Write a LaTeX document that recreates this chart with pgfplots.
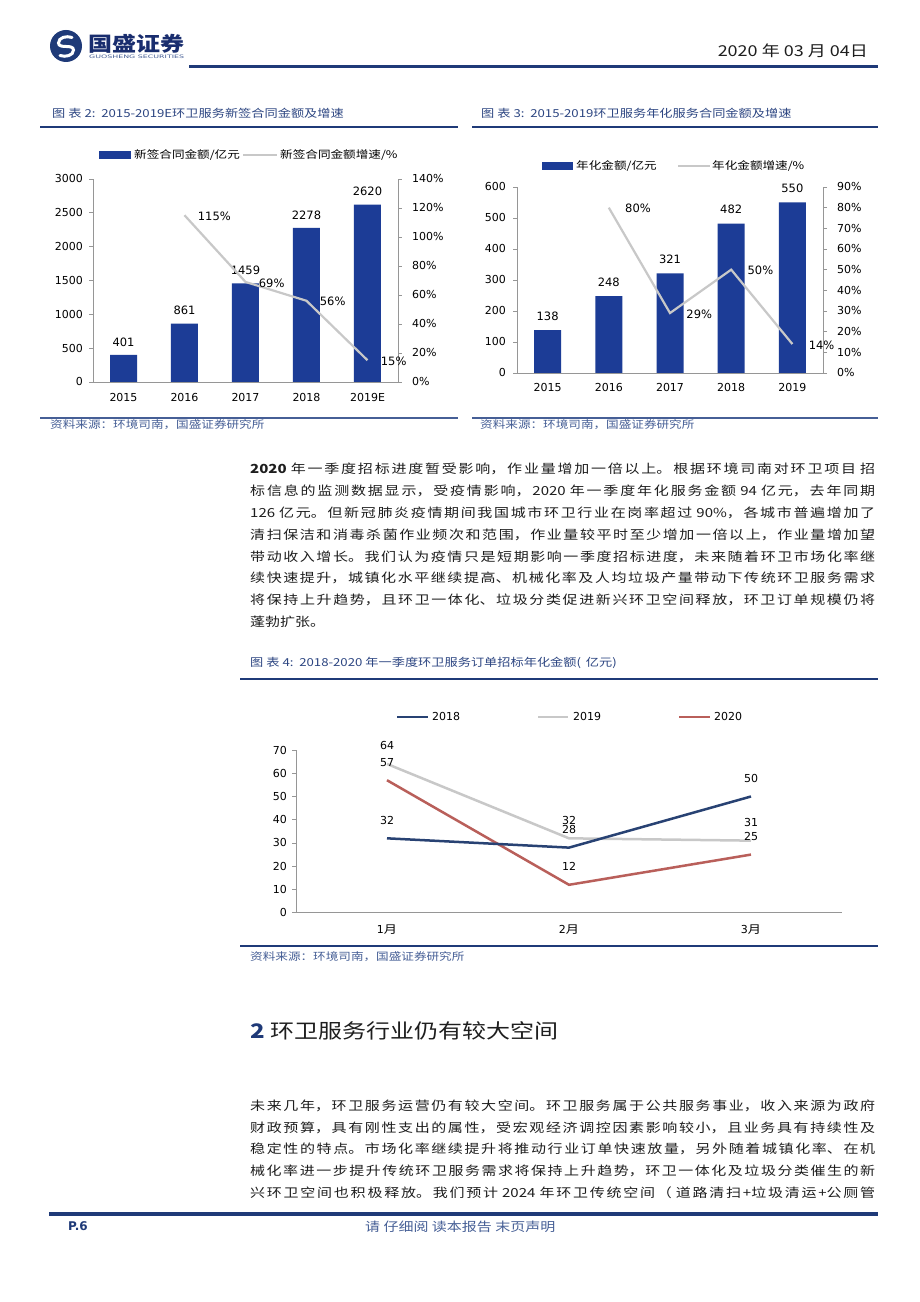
\documentclass[border=0pt]{standalone}
\usepackage{fontspec}
\usepackage{graphicx}
\usepackage{pgfplots}
\pgfplotsset{compat=1.18}
\setmainfont{Noto Sans CJK SC}[FakeStretch=1.2]
\newfontfamily\lat{DejaVu Sans}
\newfontfamily\cjk{Noto Sans CJK SC}[FakeStretch=1.2]
\XeTeXlinebreaklocale "zh"
\XeTeXlinebreakskip=0pt plus 4pt
\definecolor{navy}{RGB}{31,58,120}
\definecolor{barblue}{RGB}{28,60,150}
\definecolor{lgray}{RGB}{200,200,200}
\definecolor{axgray}{RGB}{150,150,150}
\definecolor{capblue}{RGB}{45,70,130}
\definecolor{srcblue}{RGB}{70,95,150}
\definecolor{c18}{RGB}{40,66,115}
\definecolor{c20}{RGB}{185,95,90}
\definecolor{txt}{RGB}{30,30,30}
\newcommand{\tickfont}{\lat\fontsize{11}{13}\selectfont}
\newcommand{\valfont}{\lat\fontsize{11.5}{13}\selectfont}
\newcommand{\jl}[2]{\node[anchor=west,inner sep=0pt,text=txt] at (250,1302-#1) {\parbox{625pt}{\fontsize{12.5}{15}\selectfont\tolerance=10000\hbadness=10000\parfillskip=0pt\relax #2}};}
\pgfplotsset{
  every axis/.append style={scale only axis, clip=false, scaled y ticks=false,
    /pgf/number format/1000 sep={}, /pgf/number format/assume math mode=true,
    axis line style={draw=axgray, line width=0.8pt, -},
    major tick length=4pt, tick align=outside,
    ticklabel style={font=\tickfont, text=black},
    ytick style={draw=axgray, line width=0.8pt}},
}
\begin{document}
\begin{tikzpicture}
\begin{scope}[x=1pt,y=1pt]
\fill[white] (0,0) rectangle (920,1302);
% ---------- header ----------
\fill[navy] (66,1302-46) circle (16);
\draw[white, line width=3pt, line cap=round] (72,1302-37.5) to[out=160,in=90] (58.5,1302-43) to[out=-90,in=180] (66,1302-46.5) to[out=0,in=90] (73.5,1302-50) to[out=-90,in=-20] (60,1302-55.5);
\node[anchor=west, inner sep=0pt, text={rgb,255:red,25;green,45;blue,110}] at (88,1302-43.5) {\fontsize{20}{23}\selectfont\bfseries 国盛证券};
\node[anchor=west, inner sep=0pt, text=srcblue] at (89,1302-57) {\resizebox{95pt}{3.5pt}{\lat GUOSHENG SECURITIES}};
\node[anchor=east, inner sep=0pt, text=txt] at (868,1302-51) {\fontsize{15}{18}\selectfont 2020 年 03 月 04日};
\draw[navy, line width=3pt] (189,1302-66.5) -- (878,1302-66.5);
% ---------- captions ----------
\node[anchor=west, inner sep=0pt, text=capblue] at (52,1302-113) {\fontsize{11}{13}\selectfont 图 表 2: \,2015-2019E环卫服务新签合同金额及增速};
\node[anchor=west, inner sep=0pt, text=capblue] at (481,1302-113) {\fontsize{11}{13}\selectfont 图 表 3: \,2015-2019环卫服务年化服务合同金额及增速};
\draw[navy, line width=2pt] (40,1302-127) -- (458,1302-127);
\draw[navy, line width=2pt] (472,1302-127) -- (878,1302-127);
\draw[srcblue, line width=1.5pt] (40,1302-418) -- (458,1302-418);
\draw[srcblue, line width=1.5pt] (472,1302-418) -- (878,1302-418);
\node[anchor=west, inner sep=0pt, text=srcblue] at (50,1302-425) {\fontsize{10.5}{12}\selectfont 资料来源：环境司南，国盛证券研究所};
\node[anchor=west, inner sep=0pt, text=srcblue] at (480,1302-425) {\fontsize{10.5}{12}\selectfont 资料来源：环境司南，国盛证券研究所};
% ---------- chart 1 legend ----------
\fill[barblue] (99,1302-159) rectangle (131,1302-151);
\node[anchor=west, inner sep=0pt] at (134,1302-155) {\fontsize{10.5}{12}\selectfont 新签合同金额/亿元};
\draw[lgray, line width=2.5pt] (243,1302-155) -- (277,1302-155);
\node[anchor=west, inner sep=0pt] at (280,1302-155) {\fontsize{10.5}{12}\selectfont 新签合同金额增速/\%};
% ---------- chart 2 legend ----------
\fill[barblue] (542,1302-170) rectangle (573,1302-162);
\node[anchor=west, inner sep=0pt] at (576,1302-166) {\fontsize{10.5}{12}\selectfont 年化金额/亿元};
\draw[lgray, line width=2.5pt] (678,1302-166) -- (710,1302-166);
\node[anchor=west, inner sep=0pt] at (712,1302-166) {\fontsize{10.5}{12}\selectfont 年化金额增速/\%};
% ---------- paragraph 1 ----------
\jl{469}{{\bfseries 2020} 年一季度招标进度暂受影响，作业量增加一倍以上。根据环境司南对环卫项目 招}
\jl{490.9}{标信息的监测数据显示，受疫情影响，2020 年一季度年化服务金额 94 亿元，去年同期}
\jl{512.7}{126 亿元。但新冠肺炎疫情期间我国城市环卫行业在岗率超过 90\%，各城市普遍增加了}
\jl{534.6}{清扫保洁和消毒杀菌作业频次和范围，作业量较平时至少增加一倍以上，作业量增加望}
\jl{556.4}{带动收入增长。我们认为疫情只是短期影响一季度招标进度，未来随着环卫市场化率继}
\jl{578.3}{续快速提升，城镇化水平继续提高、机械化率及人均垃圾产量带动下传统环卫服务需求}
\jl{600.2}{将保持上升趋势，且环卫一体化、垃圾分类促进新兴环卫空间释放，环卫订单规模仍将}
\node[anchor=west, inner sep=0pt, text=txt] at (250,1302-622) {\fontsize{12.5}{15}\selectfont 蓬勃扩张。};
% ---------- chart 3 caption ----------
\node[anchor=west, inner sep=0pt, text=capblue] at (250,1302-663) {\fontsize{11}{13}\selectfont 图 表 4: \,2018-2020 年一季度环卫服务订单招标年化金额( \,亿元)};
\draw[navy, line width=2pt] (240,1302-679) -- (878,1302-679);
% ---------- chart 3 legend ----------
\draw[c18, line width=2.5pt] (397,1302-717) -- (428,1302-717);
\node[anchor=west, inner sep=0pt, font=\tickfont] at (432,1302-717) {2018};
\draw[lgray, line width=2.5pt] (538,1302-717) -- (568,1302-717);
\node[anchor=west, inner sep=0pt, font=\tickfont] at (573,1302-717) {2019};
\draw[c20, line width=2.5pt] (679,1302-717) -- (710,1302-717);
\node[anchor=west, inner sep=0pt, font=\tickfont] at (714,1302-717) {2020};
\draw[navy, line width=2pt] (240,1302-946.5) -- (878,1302-946.5);
\node[anchor=west, inner sep=0pt, text=srcblue] at (250,1302-957) {\fontsize{10.5}{12}\selectfont 资料来源：环境司南，国盛证券研究所};
% ---------- section heading ----------
\node[anchor=west, inner sep=0pt, text=txt] at (250,1302-1031) {\fontsize{20}{24}\selectfont{\bfseries\color{navy}2} 环卫服务行业仍有较大空间};
% ---------- paragraph 2 ----------
\jl{1106}{未来几年，环卫服务运营仍有较大空间。环卫服务属于公共服务事业，收入来源为政府}
\jl{1127.6}{财政预算，具有刚性支出的属性，受宏观经济调控因素影响较小，且业务具有持续性及}
\jl{1149.2}{稳定性的特点。市场化率继续提升将推动行业订单快速放量，另外随着城镇化率、在机}
\jl{1170.8}{械化率进一步提升传统环卫服务需求将保持上升趋势，环卫一体化及垃圾分类催生的新}
\jl{1192.4}{兴环卫空间也积极释放。我们预计 2024 年环卫传统空间（ 道路清扫+垃圾清运+公厕管}
% ---------- footer ----------
\draw[navy, line width=3.5pt] (49,1302-1214) -- (878,1302-1214);
\node[anchor=west, inner sep=0pt, text=navy] at (68,1302-1226) {\lat\bfseries\fontsize{12}{14}\selectfont P.6};
\node[anchor=west, inner sep=0pt, text=srcblue] at (365,1302-1227) {\fontsize{12.5}{15}\selectfont 请 仔细阅 读本报告 末页声明};
\end{scope}
% ---------- chart 1 ----------
\begin{axis}[at={(93pt,920pt)}, anchor=south west, width=305pt, height=203pt,
  xmin=-0.5, xmax=4.5, ymin=0, ymax=3000,
  xtick={0,1,2,3,4}, xticklabels={2015,2016,2017,2018,2019E},
  ytick={0,500,...,3000},
  axis y line*=left, axis x line*=bottom, xtick style={draw=none},
  xticklabel style={anchor=center, yshift=-12pt},
  yticklabel style={anchor=east, inner sep=0pt, xshift=-6pt}]
\addplot[ybar, bar width=27pt, fill=barblue, draw=none, nodes near coords,
  every node near coord/.append style={font=\valfont, text=black, anchor=center, yshift=13pt}]
  coordinates {(0,401)(1,861)(2,1459)(3,2278)(4,2620)};
\end{axis}
\begin{axis}[at={(93pt,920pt)}, anchor=south west, width=305pt, height=203pt,
  xmin=-0.5, xmax=4.5, ymin=0, ymax=140,
  ytick={0,20,...,140}, yticklabel={\pgfmathprintnumber{\tick}\%},
  axis y line*=right, axis x line=none,
  yticklabel style={anchor=west, inner sep=0pt, xshift=10pt}]
\addplot[lgray, line width=2.2pt, nodes near coords={\pgfmathprintnumber{\pgfplotspointmeta}\%},
  every node near coord/.append style={font=\valfont, text=black, anchor=west, xshift=9pt, yshift=-1pt}]
  coordinates {(1,115)(2,69)(3,56)(4,15)};
\end{axis}
% ---------- chart 2 ----------
\begin{axis}[at={(517pt,929pt)}, anchor=south west, width=306pt, height=186pt,
  xmin=-0.5, xmax=4.5, ymin=0, ymax=600,
  xtick={0,1,2,3,4}, xticklabels={2015,2016,2017,2018,2019},
  ytick={0,100,...,600},
  axis y line*=left, axis x line*=bottom, xtick style={draw=none},
  xticklabel style={anchor=center, yshift=-11pt},
  yticklabel style={anchor=east, inner sep=0pt, xshift=-7pt}]
\addplot[ybar, bar width=27pt, fill=barblue, draw=none, nodes near coords,
  every node near coord/.append style={font=\valfont, text=black, anchor=center, yshift=14pt}]
  coordinates {(0,138)(1,248)(2,321)(3,482)(4,550)};
\end{axis}
\begin{axis}[at={(517pt,929pt)}, anchor=south west, width=306pt, height=186pt,
  xmin=-0.5, xmax=4.5, ymin=0, ymax=90,
  ytick={0,10,...,90}, yticklabel={\pgfmathprintnumber{\tick}\%},
  axis y line*=right, axis x line=none,
  yticklabel style={anchor=west, inner sep=0pt, xshift=10pt}]
\addplot[lgray, line width=2.2pt, nodes near coords={\pgfmathprintnumber{\pgfplotspointmeta}\%},
  every node near coord/.append style={font=\valfont, text=black, anchor=west, xshift=12pt, yshift=-1pt}]
  coordinates {(1,80)(2,29)(3,50)(4,14)};
\end{axis}
% ---------- chart 3 ----------
\begin{axis}[at={(296pt,389.3pt)}, anchor=south west, width=546pt, height=162.7pt,
  xmin=0.5, xmax=3.5, ymin=0, ymax=70,
  xtick={1,2,3}, xticklabels={1{\cjk 月},2{\cjk 月},3{\cjk 月}},
  minor xtick={1.5,2.5,3.5},
  ytick={0,10,...,70},
  axis y line*=left, axis x line*=bottom,
  xtick style={draw=none}, minor tick style={draw=axgray, line width=0.8pt}, minor tick length=5pt,
  xticklabel style={anchor=center, yshift=-13pt},
  yticklabel style={anchor=east, inner sep=0pt, xshift=-5pt},
  every node near coord/.append style={font=\tickfont, text=black, anchor=center, yshift=18pt}]
\addplot[lgray, line width=2.5pt, nodes near coords] coordinates {(1,64)(2,32)(3,31)};
\addplot[c20, line width=2.5pt, nodes near coords] coordinates {(1,57)(2,12)(3,25)};
\addplot[c18, line width=2.5pt, nodes near coords] coordinates {(1,32)(2,28)(3,50)};
\end{axis}
\end{tikzpicture}
\end{document}
